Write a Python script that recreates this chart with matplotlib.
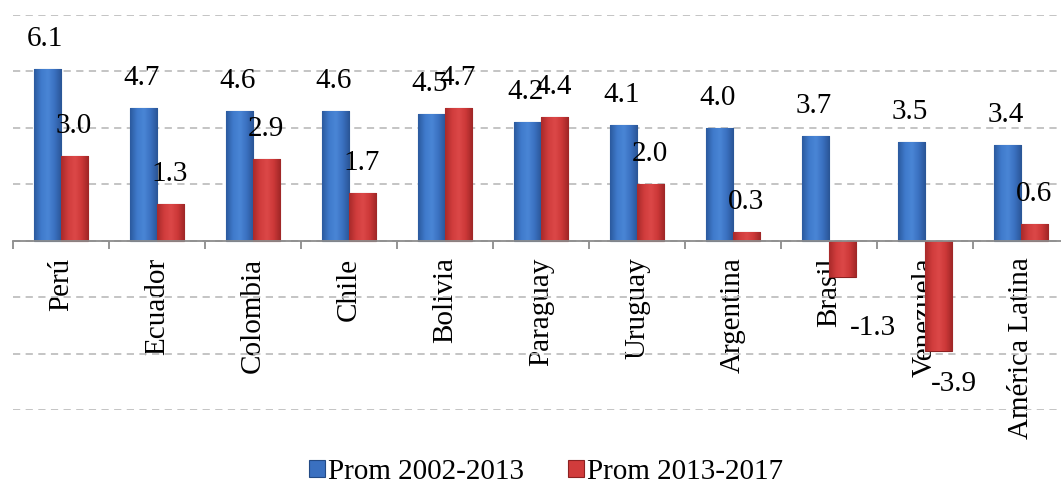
import numpy as np
import matplotlib.pyplot as plt
from matplotlib.colors import LinearSegmentedColormap

plt.rcParams['font.family'] = ['Liberation Serif', 'DejaVu Serif']

# data
paises = ["Perú", "Ecuador", "Colombia", "Chile", "Bolivia", "Paraguay",
          "Uruguay", "Argentina", "Brasil", "Venezuela", "América Latina"]
prom_2002_2013 = [6.1, 4.7, 4.6, 4.6, 4.5, 4.2, 4.1, 4.0, 3.7, 3.5, 3.4]
prom_2013_2017 = [3.0, 1.3, 2.9, 1.7, 4.7, 4.4, 2.0, 0.3, -1.3, -3.9, 0.6]

# manual nudges for the negative labels (pixels)
neg_nudge = {8: (30, -38), 9: (15, -20)}

blue, blue_edge = "#3a70c0", "#234a85"
red, red_edge = "#d13c3c", "#8c2222"
blue_cm = LinearSegmentedColormap.from_list("b", ["#2b5a9e", "#3f7acb", "#4a86d6", "#3a70c0", "#2a5595"])
red_cm = LinearSegmentedColormap.from_list("r", ["#a82a2a", "#d03c3c", "#dc4848", "#cc3838", "#9e2626"])

fs = 21

fig = plt.figure(figsize=(10.61, 4.88), dpi=100)
ax = fig.add_axes([13 / 1061, 78 / 488, 1056 / 1061, 395 / 488])

x = np.arange(len(paises))
w = 0.285
b1 = ax.bar(x - w / 2, prom_2002_2013, w, color=blue, edgecolor=blue_edge,
            linewidth=0.8, label="Prom 2002-2013", zorder=3)
b2 = ax.bar(x + w / 2, prom_2013_2017, w, color=red, edgecolor=red_edge,
            linewidth=0.8, label="Prom 2013-2017", zorder=3)

# gradient shading on each bar, like the excel bevel
grad = np.linspace(0, 1, 64).reshape(1, -1)
for bars, cm in [(b1, blue_cm), (b2, red_cm)]:
    for r in bars:
        x0, y0 = r.get_x(), r.get_y()
        x1, y1 = x0 + r.get_width(), y0 + r.get_height()
        im = ax.imshow(grad, cmap=cm, aspect="auto", extent=(x0, x1, min(y0, y1), max(y0, y1)),
                       zorder=3.5, interpolation="bicubic")
        im.set_clip_path(r)

# value labels
for i, v in enumerate(prom_2002_2013):
    ax.annotate(f"{v:.1f}", (x[i] - w / 2, v), xytext=(-2, 17),
                textcoords="offset pixels", ha="center", va="bottom",
                fontsize=fs, zorder=5)
for i, v in enumerate(prom_2013_2017):
    if v >= 0:
        ax.annotate(f"{v:.1f}", (x[i] + w / 2, v), xytext=(-1, 17),
                    textcoords="offset pixels", ha="center", va="bottom",
                    fontsize=fs, zorder=5)
    else:
        dx, dy = neg_nudge.get(i, (10, -20))
        ax.annotate(f"{v:.1f}", (x[i] + w / 2, v), xytext=(dx, dy),
                    textcoords="offset pixels", ha="center", va="top",
                    fontsize=fs, zorder=5)

ax.set_xlim(-0.5, len(paises) - 0.5)
ax.set_ylim(-6, 8)
ax.set_yticks(np.arange(-6, 9, 2))
ax.yaxis.grid(True, linestyle=(0, (4, 3)), color="#bfbfbf", linewidth=1.3, zorder=0)
ax.tick_params(axis="y", left=False, labelleft=False)

for s in ["top", "right", "left"]:
    ax.spines[s].set_visible(False)
ax.spines["bottom"].set_position(("data", 0))
ax.spines["bottom"].set_color("#8c8c8c")
ax.spines["bottom"].set_linewidth(1.3)
ax.spines["bottom"].set_zorder(4)

ax.set_xticks(x)
ax.set_xticklabels(paises, rotation=90, fontsize=fs, va="top")
ax.set_xticks(np.arange(-0.5, len(paises), 1), minor=True)
ax.tick_params(axis="x", which="major", length=0, pad=12)
ax.tick_params(axis="x", which="minor", length=6, color="#8c8c8c", width=1.3)

fig.legend(handles=[b1, b2], loc="center", bbox_to_anchor=(546 / 1061, 1 - 472 / 488),
           ncol=2, frameon=False, fontsize=fs, handlelength=0.55, handleheight=0.55,
           handletextpad=0.1, columnspacing=1.5, borderaxespad=0)

fig.savefig("out.png", dpi=100)
